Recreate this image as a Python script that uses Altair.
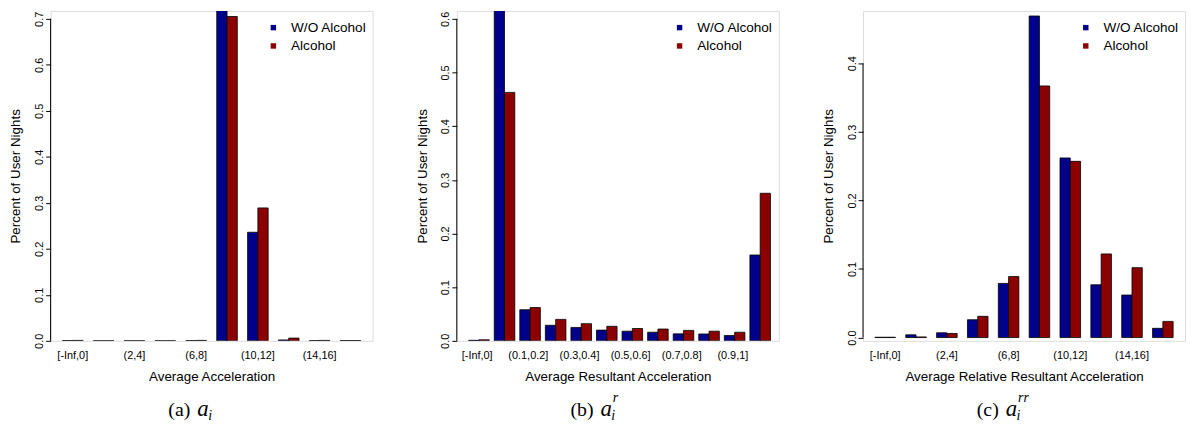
import altair as alt
import pandas as pd

SERIES = ["W/O Alcohol", "Alcohol"]
COLORS = ["#00008B", "#8B0000"]
FONT = "Liberation Sans"
SERIF = "Liberation Serif"

# Panel (a): Average Acceleration
cats_a = ["[-Inf,0]", "(0,2]", "(2,4]", "(4,6]", "(6,8]", "(8,10]",
          "(10,12]", "(12,14]", "(14,16]", "(16,Inf]"]
wo_a = [0.0006, 0.0004, 0.0004, 0.0004, 0.0006, 0.762, 0.236, 0.002, 0.0006, 0.0005]
alc_a = [0.001, 0.0004, 0.0004, 0.0004, 0.001, 0.705, 0.289, 0.006, 0.001, 0.0006]
ticks_a = [0.0, 0.1, 0.2, 0.3, 0.4, 0.5, 0.6, 0.7]

# Panel (b): Average Resultant Acceleration
cats_b = ["[-Inf,0]", "(0,0.1]", "(0.1,0.2]", "(0.2,0.3]", "(0.3,0.4]", "(0.4,0.5]",
          "(0.5,0.6]", "(0.6,0.7]", "(0.7,0.8]", "(0.8,0.9]", "(0.9,1]", "(1,Inf]"]
wo_b = [0.001, 0.637, 0.058, 0.029, 0.025, 0.020, 0.018, 0.016, 0.013, 0.0128, 0.010, 0.160]
alc_b = [0.002, 0.463, 0.062, 0.040, 0.032, 0.027, 0.023, 0.022, 0.0195, 0.018, 0.016, 0.275]
ticks_b = [0.0, 0.1, 0.2, 0.3, 0.4, 0.5, 0.6]

# Panel (c): Average Relative Resultant Acceleration
cats_c = ["[-Inf,0]", "(0,2]", "(2,4]", "(4,6]", "(6,8]", "(8,10]",
          "(10,12]", "(12,14]", "(14,16]", "(16,Inf]"]
wo_c = [0.0005, 0.004, 0.007, 0.026, 0.079, 0.469, 0.262, 0.077, 0.062, 0.0135]
alc_c = [0.0005, 0.001, 0.006, 0.031, 0.089, 0.367, 0.257, 0.122, 0.102, 0.0236]
ticks_c = [0.0, 0.1, 0.2, 0.3, 0.4]

W, H = 325, 333


def panel(cats, wo, alc, ydom, yticks, xtitle, p_outer, cap_label, cap_right, sup=None):
    df = pd.DataFrame({
        "cat": cats * 2,
        "series": [SERIES[0]] * len(cats) + [SERIES[1]] * len(cats),
        "value": wo + alc,
    })
    bars = alt.Chart(df).mark_bar(stroke="black", strokeWidth=0.8, clip=True).encode(
        x=alt.X("cat:N", sort=cats,
                scale=alt.Scale(paddingInner=1 / 3, paddingOuter=p_outer),
                axis=alt.Axis(values=cats[::2], title=xtitle, labelAngle=0,
                              domain=False, ticks=False, tickSize=0, labelPadding=9,
                              labelFontSize=11, labelFont=FONT, labelColor="black",
                              titleFont=FONT, titleFontSize=13.5, titleFontWeight="normal",
                              titleColor="black", titlePadding=9)),
        xOffset=alt.XOffset("series:N", sort=SERIES,
                            scale=alt.Scale(paddingInner=0, paddingOuter=0)),
        y=alt.Y("value:Q",
                scale=alt.Scale(domain=ydom, nice=False, zero=False),
                axis=alt.Axis(values=yticks, format=".1f", domain=False, grid=False,
                              tickSize=5, tickColor="black", tickWidth=1,
                              labelAngle=270, labelFontSize=11, labelFont=FONT,
                              labelColor="black", labelPadding=1,
                              title="Percent of User Nights", titleFont=FONT,
                              titleFontSize=13.5, titleFontWeight="normal",
                              titleColor="black", titlePadding=11)),
        y2=alt.datum(0),
        color=alt.Color("series:N", sort=SERIES,
                        scale=alt.Scale(domain=SERIES, range=COLORS),
                        legend=alt.Legend(title=None, orient="none", legendX=218, legendY=10,
                                          symbolType="square", symbolSize=30,
                                          symbolStrokeWidth=0, labelFontSize=13.7,
                                          labelFont=FONT, labelColor="black",
                                          labelOffset=11, rowPadding=3.5)),
    )
    one = pd.DataFrame({"k": [0]})
    axis_line = alt.Chart(one).mark_rule(color="black", strokeWidth=1).encode(
        x=alt.value(0), y=alt.datum(0.0), y2=alt.datum(yticks[-1]))

    cap_y = 409.3
    a_left = cap_right + 7
    layers = [bars, axis_line]
    layers.append(alt.Chart(one).mark_text(text=cap_label, font=SERIF, fontSize=20,
                                           align="right", baseline="alphabetic",
                                           color="black").encode(
        x=alt.value(cap_right), y=alt.value(cap_y)))
    layers.append(alt.Chart(one).mark_text(text="a", font=SERIF, fontSize=23, fontStyle="italic",
                                           align="left", baseline="alphabetic",
                                           color="black").encode(
        x=alt.value(a_left), y=alt.value(cap_y)))
    layers.append(alt.Chart(one).mark_text(text="i", font=SERIF, fontSize=14, fontStyle="italic",
                                           align="left", baseline="alphabetic",
                                           color="black").encode(
        x=alt.value(a_left + 11), y=alt.value(cap_y + 3.5)))
    if sup:
        layers.append(alt.Chart(one).mark_text(text=sup, font=SERIF, fontSize=14,
                                               fontStyle="italic", align="left",
                                               baseline="alphabetic", color="black").encode(
            x=alt.value(a_left + 12.5), y=alt.value(cap_y - 15)))
    return alt.layer(*layers).properties(width=W, height=H)


pa = panel(cats_a, wo_a, alc_a, [0, 0.7172], ticks_a, "Average Acceleration",
           0.385, "(a)", 141)
pb = panel(cats_b, wo_b, alc_b, [0, 0.6148], ticks_b, "Average Resultant Acceleration",
           0.464, "(b)", 138, sup="r")
pc = panel(cats_c, wo_c, alc_c, [-0.00477, 0.4764], ticks_c,
           "Average Relative Resultant Acceleration", 0.385, "(c)", 137, sup="rr")

chart = alt.hconcat(pa, pb, pc, spacing=85, bounds="flush",
                    padding={"left": 0, "top": 0, "right": 0, "bottom": 0}
                    ).resolve_scale(color="independent").configure_view(strokeWidth=0
                    ).configure(font=FONT)

chart.save("out.html", embed_options={"renderer": "svg", "actions": False})
